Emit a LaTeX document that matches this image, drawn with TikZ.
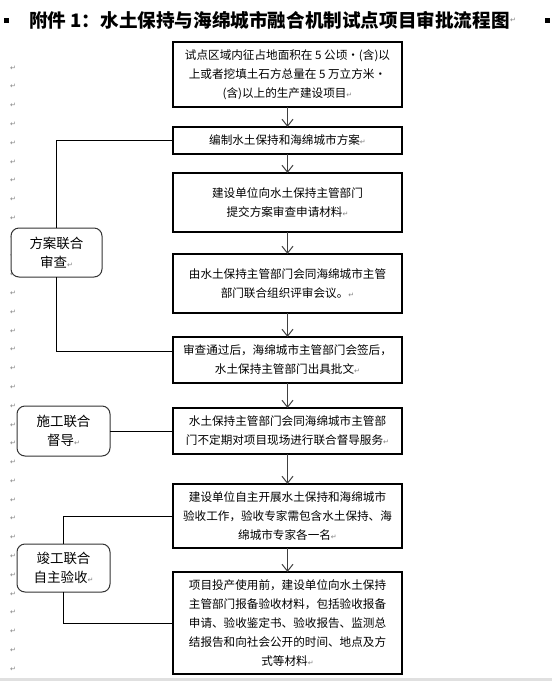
\documentclass[tikz,border=0pt]{standalone}
\usepackage{fontspec}
\usetikzlibrary{arrows.meta,calc}
\newfontfamily\cjk{Noto Sans CJK SC}
\newfontfamily\dejavu{DejaVu Sans}
\newcommand\retmark{{\dejavu\fontsize{7}{7}\selectfont\textcolor{gray}{↵}}}
\tikzset{
  mainbox/.style={draw=black, line width=1.2pt, fill=white, inner sep=0pt, outer sep=0pt,
    align=center, font=\cjk\fontsize{11.6}{19}\selectfont},
  sidebox/.style={draw=black!80, line width=1pt, rounded corners=8pt, fill=white, inner sep=0pt, outer sep=0pt,
    align=center, font=\cjk\fontsize{13.5}{19}\selectfont},
  link/.style={draw=black, line width=1pt},
  flow/.style={draw=black!75, line width=1pt, -{Straight Barb[length=7pt,width=11pt,line width=1pt]}},
  pmark/.style={inner sep=0pt, font=\dejavu\fontsize{7}{7}\selectfont, text=gray},
  bullet/.style={fill=black, minimum size=5pt, inner sep=0pt, outer sep=0pt}
}
\begin{document}
\begin{tikzpicture}[x=1pt,y=-1pt]
\useasboundingbox (0,0) rectangle (552,681);
\fill[white] (0,0) rectangle (552,681);
\fill[black!12] (0,678) rectangle (552,681);

% paragraph marks in the left margin
\foreach \k in {0,...,32} {
  \node[pmark] (pm\k) at (13, {68+18.78*\k}) {↵};
}

% title
\node[bullet] (bl) at (6,20) {};
\node[bullet] (br) at (547,20) {};
\node[inner sep=0pt, anchor=west, font=\cjk\bfseries\fontsize{18.6}{20}\selectfont] (title) at (29,20)
  {附件 1：水土保持与海绵城市融合机制试点项目审批流程图};
\node[pmark, anchor=west] (tm) at (title.east) {↵};

% main boxes
\node[mainbox, minimum width=229pt, minimum height=65pt] (b1) at (287.5,74.5)
  {试点区域内征占地面积在 5 公顷·(含)以\\上或者挖填土石方总量在 5 万立方米·\\(含)以上的生产建设项目\retmark};
\node[mainbox, minimum width=229pt, minimum height=27pt] (b2) at (287.5,140.5)
  {编制水土保持和海绵城市方案\retmark};
\node[mainbox, minimum width=229pt, minimum height=59pt] (b3) at (287.5,202.5)
  {建设单位向水土保持主管部门\\提交方案审查申请材料\retmark};
\node[mainbox, minimum width=229pt, minimum height=59pt] (b4) at (287.5,283.5)
  {由水土保持主管部门会同海绵城市主管\\部门联合组织评审会议。\retmark};
\node[mainbox, minimum width=229pt, minimum height=46pt] (b5) at (287.5,360)
  {审查通过后，海绵城市主管部门会签后，\\水土保持主管部门出具批文\retmark};
\node[mainbox, minimum width=229pt, minimum height=46pt] (b6) at (287.5,431)
  {水土保持主管部门会同海绵城市主管部\\门不定期对项目现场进行联合督导服务\retmark};
\node[mainbox, minimum width=229pt, minimum height=64pt] (b7) at (287.5,516)
  {建设单位自主开展水土保持和海绵城市\\验收工作，验收专家需包含水土保持、海\\绵城市专家各一名\retmark};
\node[mainbox, minimum width=229pt, minimum height=102pt] (b8) at (287.5,623)
  {项目投产使用前，建设单位向水土保持\\主管部门报备验收材料，包括验收报备\\申请、验收鉴定书、验收报告、监测总\\结报告和向社会公开的时间、地点及方\\式等材料\retmark};

% side boxes
\node[sidebox, minimum width=91pt, minimum height=49pt] (s1) at (56.5,252.5)
  {方案联合\\审查\retmark};
\node[sidebox, minimum width=93pt, minimum height=50pt] (s2) at (63.5,431)
  {施工联合\\督导\retmark};
\node[sidebox, minimum width=93pt, minimum height=48pt] (s3) at (63.5,568)
  {竣工联合\\自主验收\retmark};

% flow arrows
\draw[flow] (b1.south) -- (b2.north);
\draw[flow] (b2.south) -- (b3.north);
\draw[flow] (b3.south) -- (b4.north);
\draw[flow] (b4.south) -- (b5.north);
\draw[flow] (b5.south) -- (b6.north);
\draw[flow] (b6.south) -- (b7.north);
\draw[flow] (b7.south) -- (b8.north);

% side links
\draw[link] (b2.west) -| (s1.north);
\draw[link] (s1.south) |- (b5.west |- 0,351);
\draw[link] (s2.east) -- (b6.west);
\draw[link] (s3.north) |- (b7.west);
\draw[link] (s3.south) |- (b8.west);
\end{tikzpicture}
\end{document}
